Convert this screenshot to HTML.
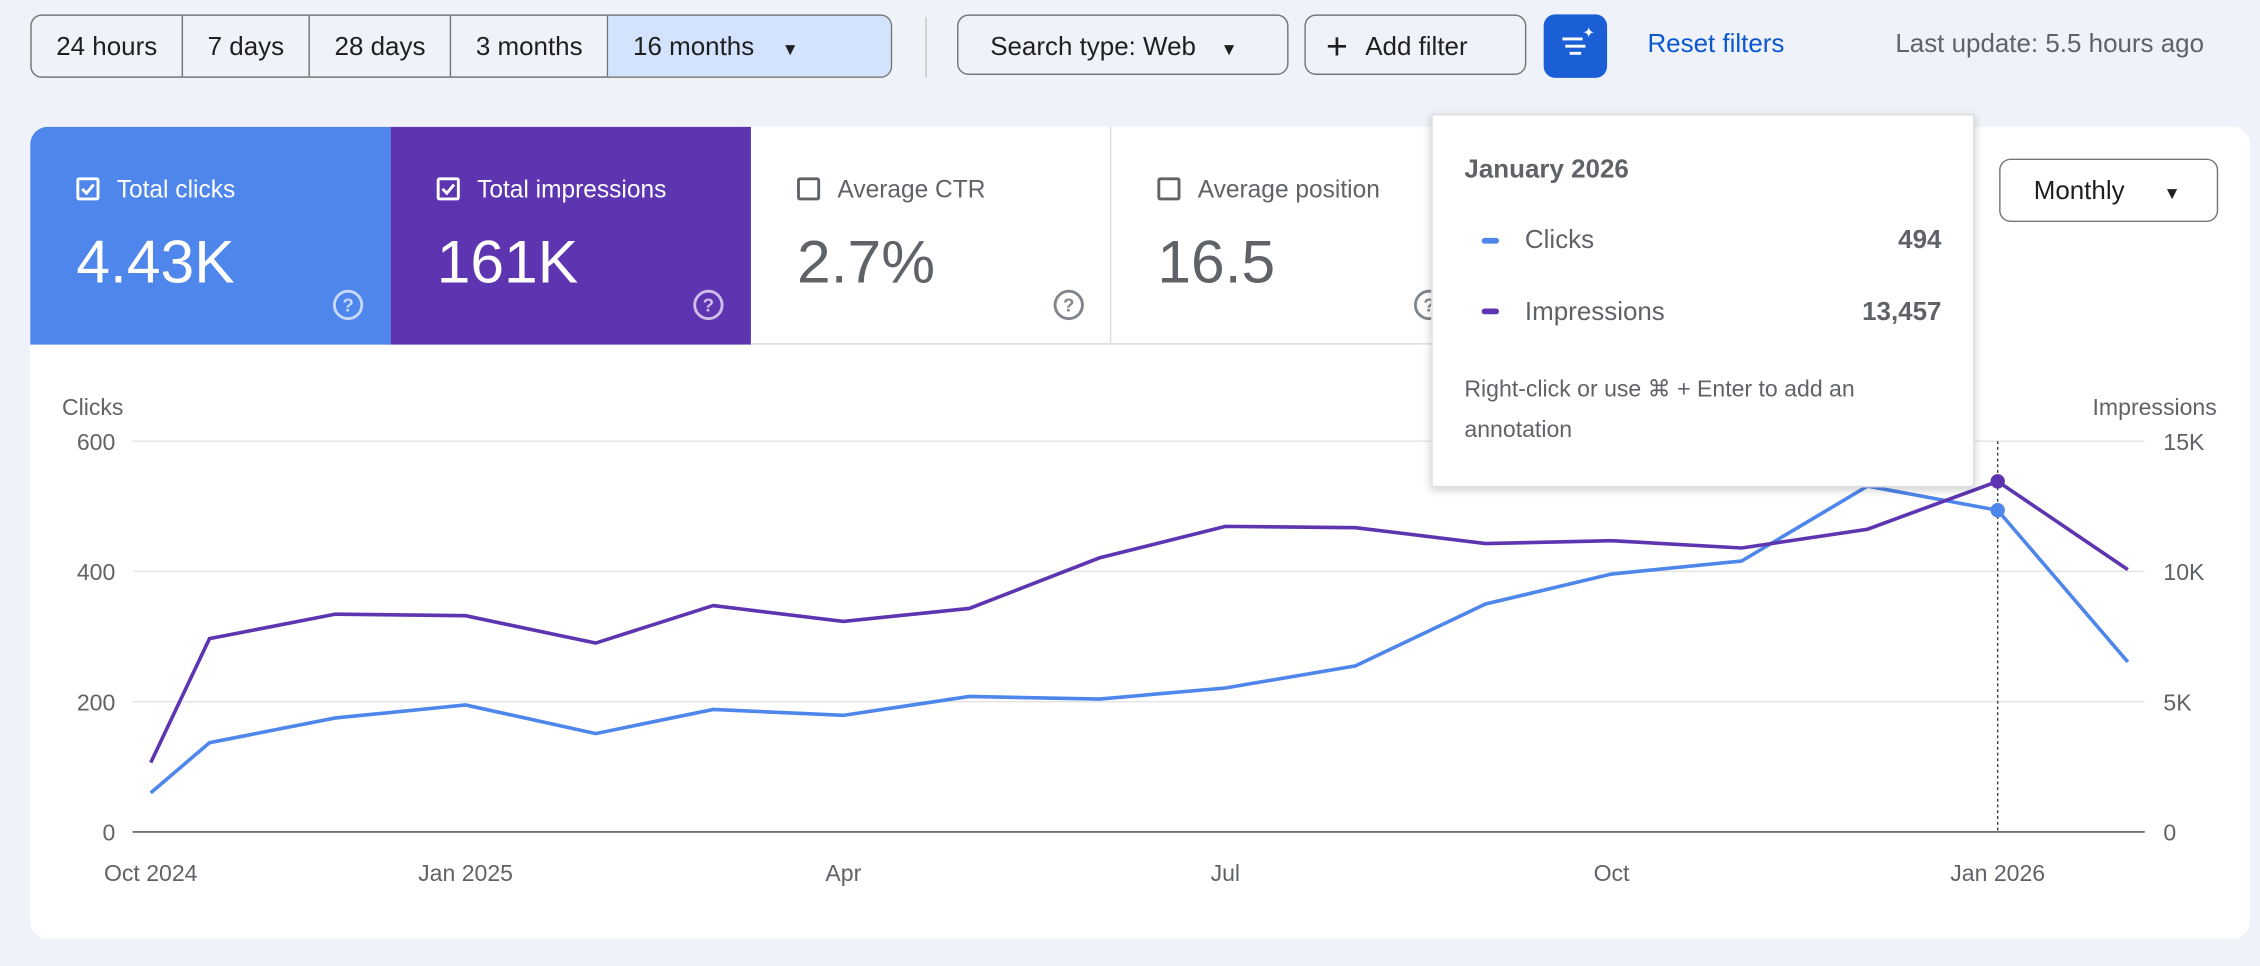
<!DOCTYPE html>
<html><head><meta charset="utf-8">
<style>
html,body{margin:0;padding:0;width:2260px;height:966px;overflow:hidden;background:#eff3f9;}
#root{position:absolute;left:0;top:0;width:1568px;height:670px;transform:scale(1.44133,1.4418);transform-origin:0 0;font-family:"Liberation Sans",sans-serif;color:#1f1f1f;}
.abs{position:absolute;}
.seg{position:absolute;top:10px;height:42px;border:1px solid #747775;border-radius:8px;display:flex;overflow:hidden;background:#eff3f9;}
.seg div{padding:0 17px;line-height:42px;font-size:18px;border-right:1px solid #747775;}
.seg div:last-child{border-right:none;}
.btn{position:absolute;top:10px;height:42px;border:1px solid #747775;border-radius:8px;line-height:42px;font-size:18px;box-sizing:border-box;}
.card{position:absolute;top:88px;height:151px;width:250px;box-sizing:border-box;}
.card .lbl{position:absolute;left:32px;top:34px;font-size:17px;}
.card .val{position:absolute;left:32px;top:70px;font-size:42px;}
.cb{position:absolute;left:0;top:1px;width:16px;height:16px;border:2px solid;border-radius:2px;box-sizing:border-box;}
.help{position:absolute;left:210px;top:113px;width:17px;height:17px;border:2px solid;border-radius:50%;font-size:13px;line-height:17px;text-align:center;font-weight:bold;}
</style></head><body>
<div id="root">
<div class="seg" style="left:21px;width:596px;">
<div>24 hours</div>
<div>7 days</div>
<div>28 days</div>
<div>3 months</div>
<div style="background:#d3e3fd;flex:1;">16 months <span style="font-size:12px;margin-left:14px">▼</span></div>
</div>
<div class="abs" style="left:642px;top:12px;width:1px;height:42px;background:#c4c7c5"></div>
<div class="btn" style="left:664px;width:230px;padding-left:22px;">Search type: Web <span style="font-size:12px;margin-left:12px">▼</span></div>
<div class="btn" style="left:905px;width:154px;padding-left:14px;"><span style="font-size:26px;vertical-align:-3px;margin-right:12px">+</span>Add filter</div>
<div class="abs" style="left:1071px;top:10px;width:44px;height:44px;border-radius:8px;background:#1b5fd6;">
<svg width="44" height="44"><g stroke="#fff" stroke-width="2"><line x1="13" y1="17" x2="27" y2="17"/><line x1="15" y1="22" x2="29" y2="22"/><line x1="18" y1="27" x2="26" y2="27"/></g><text x="27" y="16" fill="#fff" font-size="10">✦</text></svg></div>
<div class="abs" style="left:1143px;top:20px;font-size:18px;color:#0b57d0;">Reset filters</div>
<div class="abs" style="left:1315px;top:20px;font-size:18px;color:#5f6368;white-space:nowrap">Last update: 5.5 hours ago</div>

<div class="abs" style="left:21px;top:88px;width:1540px;height:563px;background:#fff;border-radius:12px;"></div>
<div class="card" style="left:21px;background:#4e86ec;color:#fff;border-top-left-radius:12px;">
<div class="lbl"><span class="cb" style="border-color:#fff"><svg width="12" height="12" style="position:absolute;left:0;top:0"><path d="M2 6l3 3 5-6" stroke="#fff" stroke-width="2" fill="none"/></svg></span><span style="margin-left:28px">Total clicks</span></div>
<div class="val">4.43K</div><div class="help" style="border-color:#c8d9f8;color:#c8d9f8">?</div></div>
<div class="card" style="left:271px;background:#5e35b1;color:#fff;">
<div class="lbl"><span class="cb" style="border-color:#fff"><svg width="12" height="12" style="position:absolute;left:0;top:0"><path d="M2 6l3 3 5-6" stroke="#fff" stroke-width="2" fill="none"/></svg></span><span style="margin-left:28px">Total impressions</span></div>
<div class="val">161K</div><div class="help" style="border-color:#cdbfe8;color:#cdbfe8">?</div></div>
<div class="card" style="left:521px;color:#5f6368;border-right:1px solid #dadce0;border-bottom:1px solid #dadce0">
<div class="lbl"><span class="cb" style="border-color:#5f6368"></span><span style="margin-left:28px">Average CTR</span></div>
<div class="val">2.7%</div><div class="help" style="border-color:#80868b;color:#80868b">?</div></div>
<div class="card" style="left:771px;width:222px;color:#5f6368;border-bottom:1px solid #dadce0">
<div class="lbl"><span class="cb" style="border-color:#5f6368"></span><span style="margin-left:28px">Average position</span></div>
<div class="val">16.5</div><div class="help" style="border-color:#80868b;color:#80868b">?</div></div>
<div class="btn" style="left:1387px;top:110px;width:152px;height:44px;padding-left:23px;background:#fff;">Monthly <span style="font-size:12px;margin-left:22px">▼</span></div>

<svg id="chart" class="abs" style="left:0;top:0" width="1568" height="670"></svg>

<div class="abs" style="left:993px;top:79px;width:377px;height:259px;background:#fff;border:1px solid #dadce0;box-shadow:0 2px 6px rgba(0,0,0,.2);box-sizing:border-box;">
<div class="abs" style="left:22px;top:27px;font-size:18px;font-weight:bold;color:#5f6368">January 2026</div>
<div class="abs" style="left:34px;top:85px;width:12px;height:4px;border-radius:2px;background:#4e86ec"></div>
<div class="abs" style="left:64px;top:76px;font-size:18px;color:#5f6368">Clicks</div>
<div class="abs" style="right:22px;top:76px;font-size:18px;font-weight:bold;color:#5f6368">494</div>
<div class="abs" style="left:34px;top:134px;width:12px;height:4px;border-radius:2px;background:#5e35b1"></div>
<div class="abs" style="left:64px;top:126px;font-size:18px;color:#5f6368">Impressions</div>
<div class="abs" style="right:22px;top:126px;font-size:18px;font-weight:bold;color:#5f6368">13,457</div>
<div class="abs" style="left:22px;top:177px;width:330px;font-size:16px;line-height:28px;color:#5f6368">Right-click or use ⌘ + Enter to add an annotation</div>
</div>
</div>
<script>
const dates=["2024-10-18","2024-11-01","2024-12-01","2025-01-01","2025-02-01","2025-03-01","2025-04-01","2025-05-01","2025-06-01","2025-07-01","2025-08-01","2025-09-01","2025-10-01","2025-11-01","2025-12-01","2026-01-01","2026-02-01"];
const clicks=[60,137,175,195,151,188,179,208,204,221,255,350,396,416,531,494,261];
const impressions=[2660,7420,8360,8300,7250,8690,8080,8580,10520,11730,11680,11070,11180,10900,11620,13457,10070];
const clickTicks=[0,200,400,600];
const imprTicks=[0,5000,10000,15000];
const imprTickLabels=["0","5K","10K","15K"];
const xTickDates=["2024-10-18","2025-01-01","2025-04-01","2025-07-01","2025-10-01","2026-01-01"];
const xTickLabels=["Oct 2024","Jan 2025","Apr","Jul","Oct","Jan 2026"];
const hoverIndex=15;

const NS="http://www.w3.org/2000/svg";
const svg=document.getElementById('chart');
const day=d=>Date.parse(d+"T00:00:00Z")/86400000;
const d0=day("2025-01-01"),d1=day("2026-01-01");
const x=d=>323+(day(d)-d0)*(1386-323)/(d1-d0);
const yC=v=>577-v*(577-306)/600;
const yI=v=>577-v*(577-306)/15000;
function el(t,a){const e=document.createElementNS(NS,t);for(const k in a)e.setAttribute(k,a[k]);svg.appendChild(e);return e;}
clickTicks.forEach((v,i)=>{
 const g=el('line',{x1:92,x2:1488,y1:yC(v),y2:yC(v),stroke:i==0?'#3c4043':'#e3e3e3','stroke-width':1});
 
 
 const t=el('text',{x:80,y:yC(v)+6,'text-anchor':'end','font-size':16,fill:'#5f6368','font-family':'Liberation Sans'});t.textContent=v;
 
 
});
imprTicks.forEach((v,i)=>{
 const t=el('text',{x:1501,y:yI(v)+6,'font-size':16,fill:'#5f6368','font-family':'Liberation Sans'});t.textContent=imprTickLabels[i];
 
 
});
xTickDates.forEach((d,i)=>{
 const t=el('text',{x:x(d),y:611,'text-anchor':'middle','font-size':16,fill:'#5f6368','font-family':'Liberation Sans'});t.textContent=xTickLabels[i];
 
 
});
let t=el('text',{x:43,y:288,'font-size':16,fill:'#5f6368','font-family':'Liberation Sans'});t.textContent="Clicks";


t=el('text',{x:1538,y:288,'text-anchor':'end','font-size':16,fill:'#5f6368','font-family':'Liberation Sans'});t.textContent="Impressions";


const hx=x(dates[hoverIndex]);
const hl=el('line',{x1:hx,x2:hx,y1:306,y2:577,stroke:'#3c4043','stroke-dasharray':'2,2'});


const pc=el('polyline',{points:dates.map((d,i)=>x(d)+','+yC(clicks[i])).join(' '),fill:'none',stroke:'#4e86ec','stroke-width':2.5});


const pi=el('polyline',{points:dates.map((d,i)=>x(d)+','+yI(impressions[i])).join(' '),fill:'none',stroke:'#5e35b1','stroke-width':2.5});


const c1=el('circle',{cx:hx,cy:yC(clicks[hoverIndex]),r:5,fill:'#4e86ec'});


const c2=el('circle',{cx:hx,cy:yI(impressions[hoverIndex]),r:5,fill:'#5e35b1'});


</script>
</body></html>
